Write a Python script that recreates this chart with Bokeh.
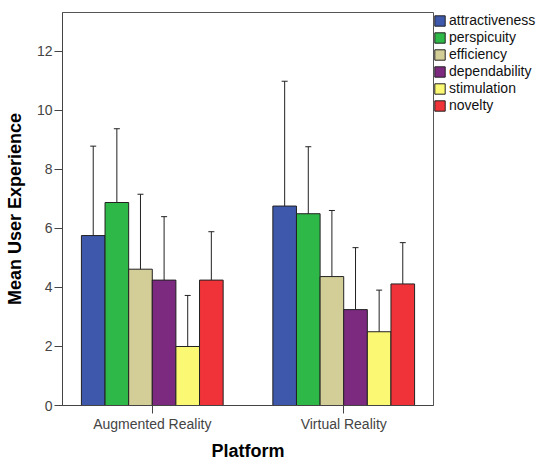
from bokeh.plotting import figure
from bokeh.models import (ColumnDataSource, Whisker, TeeHead, Legend, LegendItem,
                          FixedTicker, Range1d)
from bokeh.embed import file_html
from bokeh.resources import INLINE

platforms = ["Augmented Reality", "Virtual Reality"]
series = ["attractiveness", "perspicuity", "efficiency", "dependability", "stimulation", "novelty"]
colors = ["#3e58ac", "#2eb848", "#d3ce97", "#7b2a7f", "#fbf873", "#ef3338"]

means = {
    "attractiveness": [5.76, 6.76],
    "perspicuity":    [6.88, 6.50],
    "efficiency":     [4.62, 4.37],
    "dependability":  [4.25, 3.25],
    "stimulation":    [2.00, 2.50],
    "novelty":        [4.25, 4.12],
}
upper = {
    "attractiveness": [8.79, 10.99],
    "perspicuity":    [9.38, 8.77],
    "efficiency":     [7.16, 6.61],
    "dependability":  [6.40, 5.35],
    "stimulation":    [3.73, 3.91],
    "novelty":        [5.89, 5.52],
}
lower = {
    "attractiveness": [2.71, 2.52],
    "perspicuity":    [4.38, 4.23],
    "efficiency":     [2.09, 2.14],
    "dependability":  [2.11, 1.15],
    "stimulation":    [0.27, 1.08],
    "novelty":        [2.62, 2.74],
}
y_ticks = [0, 2, 4, 6, 8, 10, 12]

FONT = "Liberation Sans"
bar_w = 0.1234

p = figure(width=541, height=459, output_backend="svg", toolbar_location=None,
           x_range=Range1d(-0.469, 1.469), y_range=Range1d(0, 13.32),
           min_border_left=62, min_border_top=12, min_border_right=108, min_border_bottom=50,
           frame_width=371, frame_height=393)

items = []
for i, s in enumerate(series):
    xs = [k + (i - 2.5) * bar_w for k in range(len(platforms))]
    src = ColumnDataSource(dict(x=xs, top=means[s], up=upper[s], lo=lower[s]))
    r = p.vbar(x="x", top="top", bottom=0, width=bar_w, source=src,
               fill_color=colors[i], line_color="#222222", line_width=1)
    w = Whisker(base="x", upper="up", lower="lo", source=src,
                line_color="#222222", line_width=1,
                upper_head=TeeHead(size=6, line_color="#222222", line_width=1),
                lower_head=TeeHead(size=6, line_color="#222222", line_width=1))
    p.add_layout(w)
    items.append(LegendItem(label=s, renderers=[r]))

legend = Legend(items=items, location="top_left", margin=0, padding=2,
                glyph_width=13, glyph_height=13, label_height=13, spacing=1,
                label_standoff=3, label_text_font=FONT, label_text_font_size="14px",
                label_text_color="#111111", border_line_color=None,
                background_fill_alpha=0)
p.add_layout(legend, "right")

p.xgrid.visible = False
p.ygrid.visible = False
p.outline_line_color = "#555555"
p.outline_line_width = 1

p.yaxis.ticker = FixedTicker(ticks=y_ticks)
p.yaxis.minor_tick_line_color = None
p.yaxis.major_tick_out = 8
p.yaxis.major_tick_in = 0
p.yaxis.major_label_standoff = 2
p.yaxis.axis_label = "Mean User Experience"
p.yaxis.axis_label_standoff = 9

p.xaxis.ticker = FixedTicker(ticks=[0, 1])
p.xaxis.major_label_overrides = {0: platforms[0], 1: platforms[1]}
p.xaxis.minor_tick_line_color = None
p.xaxis.major_tick_out = 8
p.xaxis.major_tick_in = 0
p.xaxis.major_label_standoff = 2
p.xaxis.axis_label = "Platform"
p.xaxis.axis_label_standoff = 6

for ax in (p.xaxis[0], p.yaxis[0]):
    ax.axis_line_color = "#444444"
    ax.major_tick_line_color = "#444444"
    ax.major_label_text_font = FONT
    ax.major_label_text_font_size = "14px"
    ax.major_label_text_color = "#444444"
    ax.axis_label_text_font = FONT
    ax.axis_label_text_font_size = "18px"
    ax.axis_label_text_font_style = "bold"
    ax.axis_label_text_color = "#000000"

open("out.html", "w").write(file_html(p, INLINE))
